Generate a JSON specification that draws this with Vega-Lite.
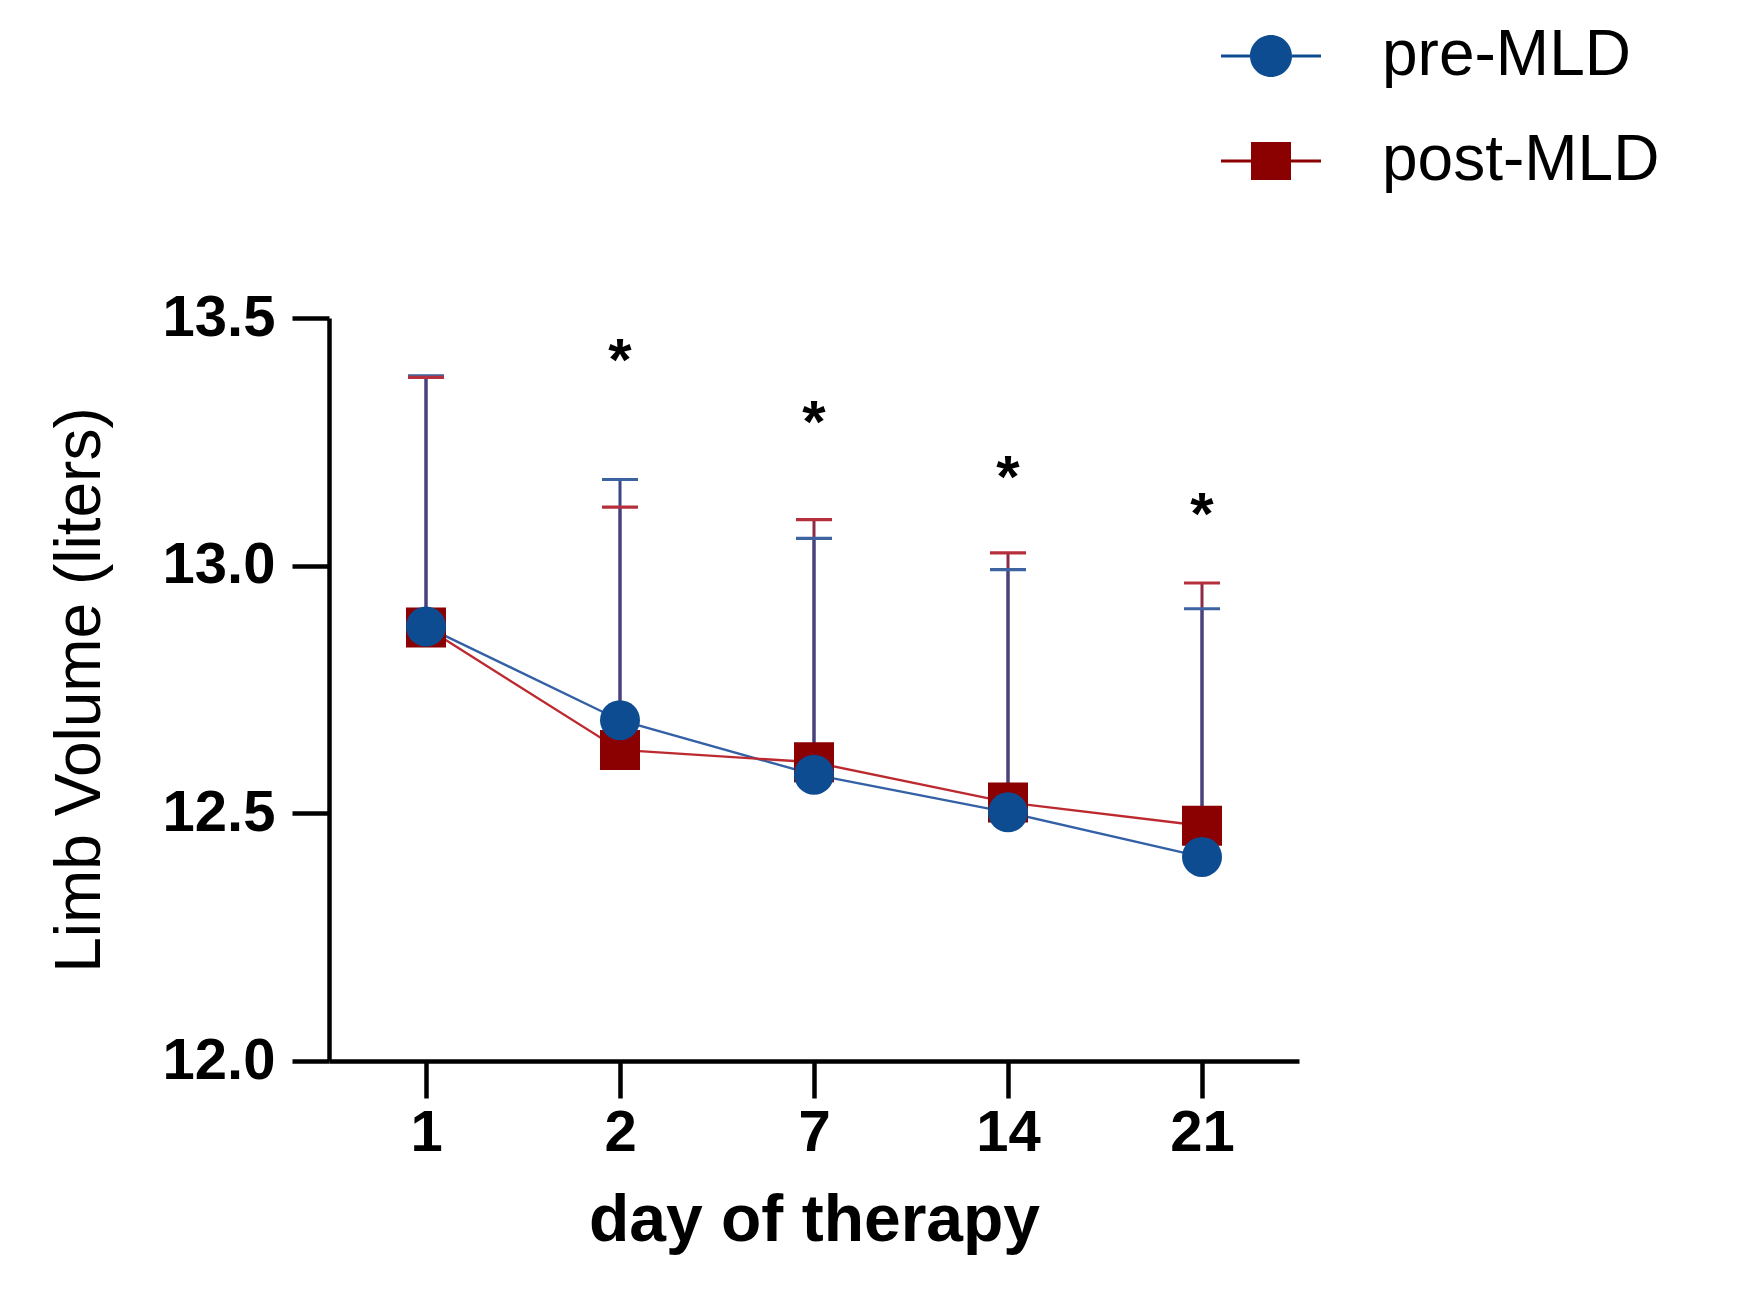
{
  "$schema": "https://vega.github.io/schema/vega-lite/v6.json",
  "width": 970,
  "height": 743,
  "autosize": "none",
  "padding": {"left": 329, "top": 318, "right": 441, "bottom": 233},
  "background": "white",
  "config": {
    "view": {"stroke": null},
    "font": "Liberation Sans",
    "axis": {
      "grid": false,
      "domainColor": "black",
      "domainWidth": 4.5,
      "tickColor": "black",
      "tickWidth": 4.5,
      "tickSize": 37,
      "labelColor": "black",
      "labelFont": "Liberation Sans",
      "labelFontWeight": "bold",
      "labelFontSize": 58,
      "titleColor": "black",
      "titleFont": "Liberation Sans"
    }
  },
  "datasets": {
    "volume": [
      {"day": "1", "series": "pre-MLD", "mean": 12.877, "upper": 13.383},
      {"day": "2", "series": "pre-MLD", "mean": 12.688, "upper": 13.174},
      {"day": "7", "series": "pre-MLD", "mean": 12.578, "upper": 13.055},
      {"day": "14", "series": "pre-MLD", "mean": 12.502, "upper": 12.992},
      {"day": "21", "series": "pre-MLD", "mean": 12.412, "upper": 12.913},
      {"day": "1", "series": "post-MLD", "mean": 12.875, "upper": 13.38},
      {"day": "2", "series": "post-MLD", "mean": 12.628, "upper": 13.118},
      {"day": "7", "series": "post-MLD", "mean": 12.603, "upper": 13.093},
      {"day": "14", "series": "post-MLD", "mean": 12.522, "upper": 13.026},
      {"day": "21", "series": "post-MLD", "mean": 12.475, "upper": 12.965}
    ],
    "stars": [
      {"day": "2", "y": 13.426, "mark": "*"},
      {"day": "7", "y": 13.3, "mark": "*"},
      {"day": "14", "y": 13.19, "mark": "*"},
      {"day": "21", "y": 13.115, "mark": "*"}
    ]
  },
  "encoding": {
    "x": {
      "field": "day",
      "type": "ordinal",
      "sort": ["1", "2", "7", "14", "21"],
      "scale": {"type": "point", "padding": 0.5},
      "axis": {
        "title": "day of therapy",
        "labelAngle": 0,
        "labelPadding": 6,
        "titleFontSize": 66,
        "titleFontWeight": "bold",
        "titlePadding": 26
      }
    },
    "y": {
      "type": "quantitative",
      "scale": {"domain": [12, 13.5], "nice": false, "zero": false},
      "axis": {
        "title": "Limb Volume (liters)",
        "values": [12, 12.5, 13, 13.5],
        "format": ".1f",
        "labelPadding": 17,
        "titleFontSize": 64,
        "titleFontWeight": "normal",
        "titlePadding": 50
      }
    }
  },
  "layer": [
    {
      "data": {"name": "volume"},
      "transform": [{"filter": "datum.series === 'post-MLD'"}],
      "mark": {"type": "rule", "strokeWidth": 3, "color": "#8E2A45"},
      "encoding": {"y": {"field": "mean"}, "y2": {"field": "upper"}}
    },
    {
      "data": {"name": "volume"},
      "transform": [{"filter": "datum.series === 'pre-MLD'"}],
      "mark": {"type": "rule", "strokeWidth": 3, "color": "#3C4585"},
      "encoding": {"y": {"field": "mean"}, "y2": {"field": "upper"}}
    },
    {
      "data": {"name": "volume"},
      "mark": {"type": "tick", "size": 36, "thickness": 3.2, "opacity": 1},
      "encoding": {
        "y": {"field": "upper"},
        "color": {
          "field": "series",
          "type": "nominal",
          "scale": {"domain": ["pre-MLD", "post-MLD"], "range": ["#3D63A0", "#B5303C"]},
          "legend": null
        }
      }
    },
    {
      "data": {"name": "volume"},
      "mark": {"type": "line", "strokeWidth": 2.4},
      "encoding": {
        "y": {"field": "mean"},
        "color": {
          "field": "series",
          "type": "nominal",
          "scale": {"domain": ["pre-MLD", "post-MLD"], "range": ["#3461A6", "#BC2A30"]},
          "legend": null
        }
      }
    },
    {
      "data": {"name": "volume"},
      "mark": {"type": "point", "filled": true, "opacity": 1},
      "encoding": {
        "y": {"field": "mean"},
        "order": {"field": "series", "sort": "ascending"},
        "color": {
          "field": "series",
          "type": "nominal",
          "scale": {"domain": ["pre-MLD", "post-MLD"], "range": ["#0E4C92", "#8B0000"]},
          "legend": null
        },
        "shape": {
          "field": "series",
          "type": "nominal",
          "scale": {"domain": ["pre-MLD", "post-MLD"], "range": ["circle", "square"]},
          "legend": null
        },
        "size": {
          "field": "series",
          "type": "nominal",
          "scale": {"domain": ["pre-MLD", "post-MLD"], "range": [1600, 1600]},
          "legend": null
        }
      }
    },
    {
      "data": {"name": "volume"},
      "transform": [{"filter": "false"}],
      "mark": {"type": "point", "filled": true, "opacity": 1},
      "encoding": {
        "y": {"field": "mean"},
        "color": {
          "field": "series",
          "type": "nominal",
          "scale": {"domain": ["pre-MLD", "post-MLD"], "range": ["#0E4C92", "#8B0000"]},
          "legend": {
            "title": null,
            "orient": "none",
            "legendX": 892,
            "legendY": -312,
            "padding": 0,
            "symbolSize": 10000,
            "symbolOpacity": 1,
            "symbolStrokeWidth": 0,
            "rowPadding": 23,
            "labelOffset": 61,
            "labelFont": "Liberation Sans",
            "labelFontSize": 64,
            "labelColor": "black",
            "labelLimit": 600
          }
        },
        "shape": {
          "field": "series",
          "type": "nominal",
          "scale": {
            "domain": ["pre-MLD", "post-MLD"],
            "range": [
              "M-1,-0.03H-0.42V0.03H-1Z M0.42,-0.03H1V0.03H0.42Z M-0.42,0A0.42,0.42 0 1,0 0.42,0A0.42,0.42 0 1,0 -0.42,0Z",
              "M-1,-0.03H-0.4V0.03H-1Z M0.4,-0.03H1V0.03H0.4Z M-0.4,-0.38H0.4V0.38H-0.4Z"
            ]
          }
        }
      }
    },
    {
      "data": {"name": "stars"},
      "mark": {"type": "text", "fontSize": 60, "fontWeight": "bold", "color": "black", "baseline": "alphabetic", "dy": 25},
      "encoding": {
        "y": {"field": "y"},
        "text": {"field": "mark"}
      }
    }
  ],
  "resolve": {"scale": {"color": "independent", "shape": "independent", "size": "independent"}}
}
